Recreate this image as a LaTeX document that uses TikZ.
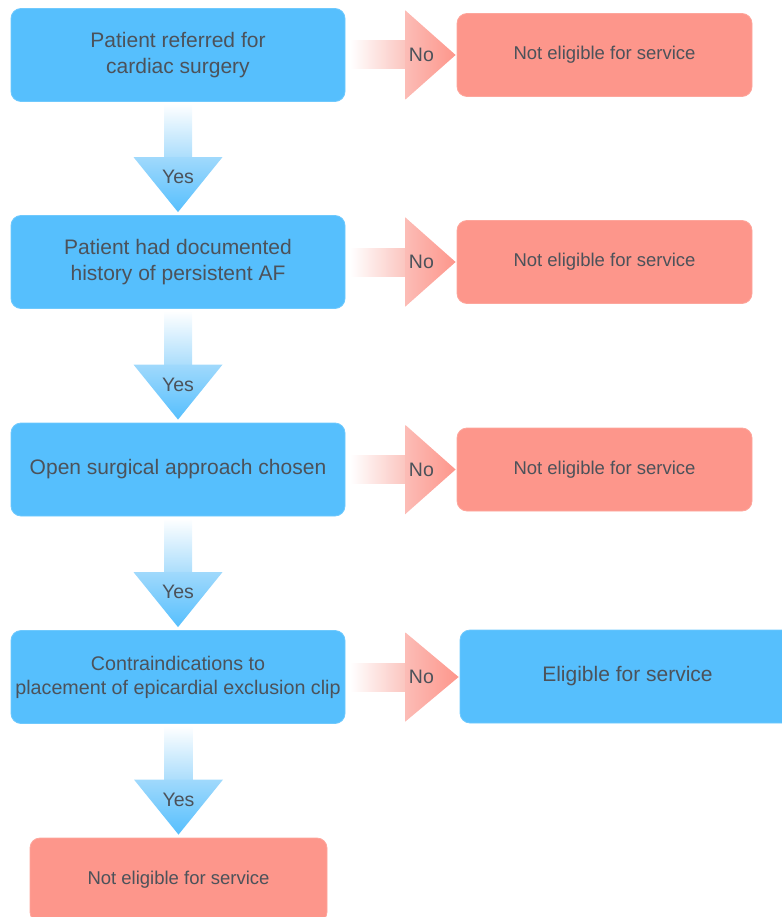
\documentclass[tikz,border=0pt]{standalone}
\usepackage{fontspec}
\setmainfont{Liberation Sans}
\usetikzlibrary{calc}
\definecolor{boxblue}{RGB}{86,191,253}
\definecolor{boxred}{RGB}{253,150,139}
\definecolor{txtgrey}{RGB}{76,82,90}
\definecolor{shaftblue}{RGB}{170,221,252}
\definecolor{headblue}{RGB}{160,217,252}
\definecolor{shaftred}{RGB}{251,196,190}
\definecolor{headred}{RGB}{252,188,182}
\tikzset{
  bluebox/.style={draw=boxblue!85!white, line width=0.8pt, fill=boxblue, rounded corners=10pt,
    minimum width=334pt, minimum height=93pt, align=center, text=txtgrey, inner sep=0pt},
  redbox/.style={draw=boxred!85!white, line width=0.8pt, fill=boxred, rounded corners=10pt,
    minimum width=295pt, minimum height=83pt, align=center, text=txtgrey, inner sep=0pt,
    font=\fontsize{18.5}{22}\selectfont},
  bigtxt/.style={font=\fontsize{21}{26}\selectfont},
  midtxt/.style={font=\fontsize{19.7}{24}\selectfont},
  lbl/.style={text=txtgrey, font=\fontsize{19.5}{20}\selectfont, inner sep=0pt}
}
\newcommand\yesarrow[2]{%
  \shade[top color=white, bottom color=shaftblue] ($(#1.south)+(-14,2)$) rectangle ($(#2.north)+(14,-57)$);
  \shade[top color=headblue, bottom color=boxblue] ($(#2.north)+(-44.5,-58)$) -- ($(#2.north)+(44.5,-58)$) -- ($(#2.north)+(0,-3)$) -- cycle;
  \node[lbl] at ($(#2.north)+(0,-38)$) {Yes};
}
\newcommand\noarrow[2]{%
  \shade[left color=white, right color=shaftred] ($(#1.east)+(5,-14)$) rectangle ($(#1.east)+(61,14)$);
  \shade[left color=headred, right color=boxred] ($(#1.east)+(60,-44.5)$) -- ($(#1.east)+(60,44.5)$) -- ($(#2.west |- #1.east)+(-1,0)$) -- cycle;
  \node[lbl] at ($(#1.east)+(76,0)$) {No};
}
\begin{document}
\begin{tikzpicture}[x=1pt,y=-1pt]
\useasboundingbox (0,0) rectangle (781,917);
\node[bluebox,bigtxt] (b1) at (178,55) {Patient referred for\\cardiac surgery};
\node[bluebox,bigtxt] (b2) at (178,262) {Patient had documented\\history of persistent AF};
\node[bluebox,bigtxt] (b3) at (178,469.5) {Open surgical approach chosen};
\node[bluebox,midtxt] (b4) at (178,677) {Contraindications to\\placement of epicardial exclusion clip};
\node[redbox] (r1) at (604.5,55) {Not eligible for service};
\node[redbox] (r2) at (604.5,262) {Not eligible for service};
\node[redbox] (r3) at (604.5,469.5) {Not eligible for service};
\node[bluebox,bigtxt,minimum width=335pt,minimum height=93pt] (e4) at (627.5,676.5) {Eligible for service};
\node[redbox,minimum width=297pt,minimum height=84pt] (r5) at (178.5,880) {Not eligible for service};
\yesarrow{b1}{b2}
\yesarrow{b2}{b3}
\yesarrow{b3}{b4}
\yesarrow{b4}{r5}
\noarrow{b1}{r1}
\noarrow{b2}{r2}
\noarrow{b3}{r3}
\noarrow{b4}{e4}
\end{tikzpicture}
\end{document}
